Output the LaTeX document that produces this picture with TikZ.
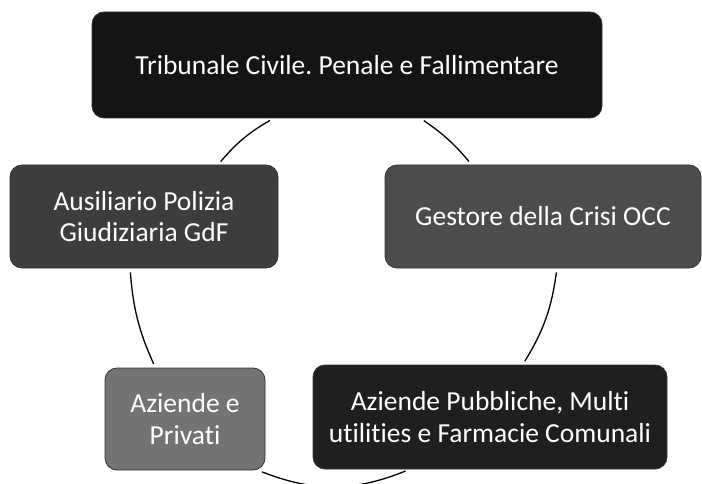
\documentclass[tikz,border=0pt]{standalone}
\usepackage{fontspec}
\setmainfont[Ligatures=NoCommon]{Carlito}
\usetikzlibrary{arrows,shapes,positioning}
\frenchspacing

\begin{document}
\begin{tikzpicture}[x=1pt,y=-1pt,
box/.style={rectangle,rounded corners=12pt,draw=black!80,thick,
inner sep=0pt,text=white,align=center,font=\fontsize{27.5}{31.5}\selectfont},
link/.style={draw=black,line width=1.3pt,shorten <=4pt,shorten >=4pt}]
    \useasboundingbox (0,0) rectangle (702,484);
    \node[box,fill=black!92,minimum width=510pt,minimum height=106pt] (trib) at (347,65) {Tribunale Civile. Penale e Fallimentare};
    \node[box,fill=black!76,minimum width=268pt,minimum height=103pt] (ausil) at (144,216.5) {Ausiliario Polizia\\Giudiziaria GdF};
    \node[box,fill=black!70,minimum width=316pt,minimum height=103pt] (gest) at (543,216.5) {Gestore della Crisi OCC};
    \node[box,fill=black!55,minimum width=160pt,minimum height=102pt] (priv) at (185,419) {Aziende e\\Privati};
    \node[box,fill=black!88,minimum width=354pt,minimum height=104pt] (pubb) at (490,417) {Aziende Pubbliche, Multi\\utilities e Farmacie Comunali};
    \draw[link] (trib.216) to[bend right=10] (ausil.35);
    \draw[link] (trib.-36) to[bend left=8] (gest.144);
    \draw[link] (ausil.255) to[bend right=10] (priv.120);
    \draw[link] (gest.-75) to[bend left=12] (pubb.58);
    \draw[link] (priv.-35) to[bend right=22] (pubb.213);
\end{tikzpicture}
\end{document}
